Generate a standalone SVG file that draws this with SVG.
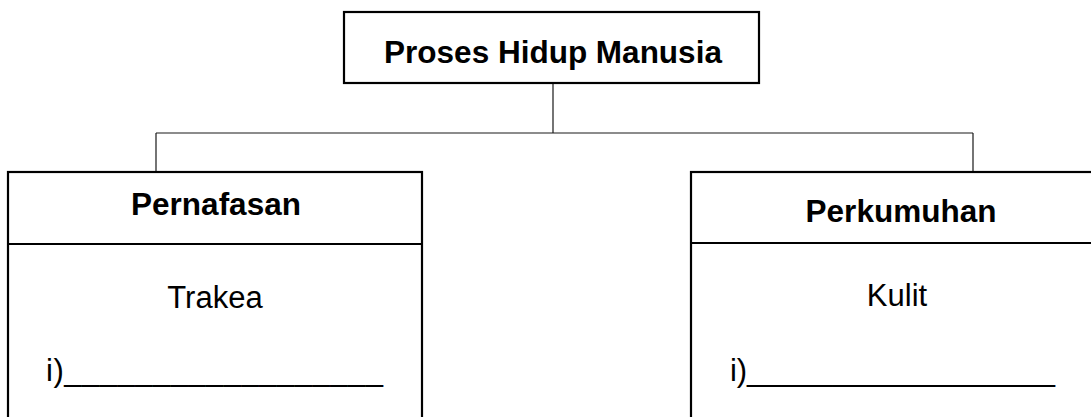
<svg xmlns="http://www.w3.org/2000/svg" width="1091" height="417" viewBox="0 0 1091 417">
<style>
.box{fill:#fff;stroke:#000;stroke-width:2.2}
.div{stroke:#000;stroke-width:2;fill:none}
.conn{stroke:#1a1a1a;stroke-width:1.2;fill:none}
.b{font-family:"Liberation Sans",Arial,sans-serif;font-weight:bold;font-size:31.5px;fill:#000;text-anchor:middle}
.r{font-family:"Liberation Sans",Arial,sans-serif;font-size:31px;fill:#000}
.c{text-anchor:middle}
</style>
<rect width="1091" height="417" fill="#fff"/>
<g id="connectors">
<path class="conn" d="M553 83V133M156 133H973M156 133V172M973 133V172"/>
</g>
<g id="root">
<rect class="box" x="344" y="12" width="415" height="71"/>
<text class="b" x="553" y="63">Proses Hidup Manusia</text>
</g>
<g id="pernafasan">
<rect class="box" x="8" y="172" width="414" height="260"/>
<line class="div" x1="8" y1="244" x2="422" y2="244"/>
<text class="b" x="216" y="215">Pernafasan</text>
<text class="r c" x="215" y="308">Trakea</text>
<text class="r" x="46" y="381" textLength="337" lengthAdjust="spacing">i)__________________</text>
</g>
<g id="perkumuhan">
<rect class="box" x="691" y="172" width="420" height="260"/>
<line class="div" x1="691" y1="243" x2="1100" y2="243"/>
<text class="b" x="901" y="222">Perkumuhan</text>
<text class="r c" x="897" y="306">Kulit</text>
<text class="r" x="730" y="381" textLength="325" lengthAdjust="spacing">i)__________________</text>
</g>
</svg>
